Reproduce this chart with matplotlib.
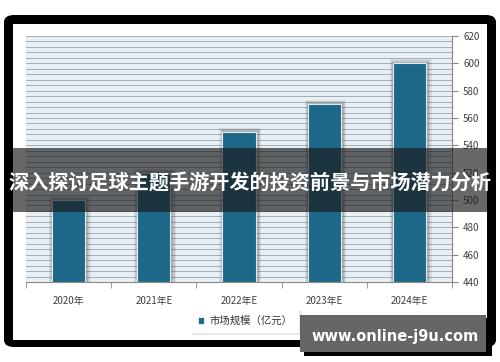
import matplotlib
matplotlib.use('Agg')

import matplotlib.pyplot as plt
import matplotlib.patches as patches
import numpy as np

plt.rcParams['font.family'] = ['Noto Sans CJK SC', 'DejaVu Sans']

# data
years = ['2020年', '2021年E', '2022年E', '2023年E', '2024年E']
market_size = [500, 520, 550, 570, 600]
series_name = '市场规模（亿元）'
y_ticks = [440, 460, 480, 500, 520, 540, 560, 580, 600, 620]
title = '深入探讨足球主题手游开发的投资前景与市场潜力分析'
watermark = 'www.online-j9u.com'

W, H = 500, 362
fig = plt.figure(figsize=(W / 100, H / 100), dpi=100)
fig.patch.set_facecolor('white')


def fx(px):
    return px / W


def fy(py):
    return 1 - py / H


# black rounded frame + white inner card
frame = patches.FancyBboxPatch((fx(4), fy(347)), fx(492), (347 - 15) / H,
                               boxstyle='round,pad=0,rounding_size=0.02',
                               transform=fig.transFigure, facecolor='black',
                               edgecolor='none', zorder=0)
fig.patches.append(frame)
inner = patches.Rectangle((fx(13), fy(340)), fx(474), (340 - 24) / H,
                          transform=fig.transFigure, facecolor='white',
                          edgecolor='none', zorder=0.5)
fig.patches.append(inner)

ax = fig.add_axes([fx(26), fy(282), fx(426), (282 - 36) / H])
ax.set_zorder(2)
ax.set_facecolor('#e8f0f7')
x = np.arange(len(years))

# gridlines every 4 units
for g in np.arange(440, 621, 4):
    ax.axhline(g, color='#a8acb0', lw=0.7, zorder=1)

# soft shadows behind bars
for i, v in enumerate(market_size):
    for k, a in zip([0.05, 0.035, 0.02], [0.12, 0.15, 0.2]):
        ax.bar(x[i] + 0.015, v - 440 + k * 60, width=0.39 + 2 * k,
               bottom=440, color='#555555', alpha=a, zorder=2, lw=0)

ax.bar(x, np.array(market_size) - 440, bottom=440, width=0.39, color='#1d6788',
       edgecolor='#dfe8ee', linewidth=0.8, zorder=3, label=series_name)

ax.set_xlim(-0.5, len(years) - 0.5)
ax.set_ylim(440, 620)
ax.yaxis.tick_right()
ax.set_yticks(y_ticks)
ax.tick_params(axis='y', length=4, color='#888888', labelsize=7, labelcolor='#404040', pad=4)
ax.set_xticks(x)
ax.set_xticklabels(years)
ax.tick_params(axis='x', length=0, labelsize=7, labelcolor='#404040', pad=10)
ax.set_xticks(np.arange(-0.5, len(years), 1), minor=True)
ax.tick_params(axis='x', which='minor', length=4, color='#888888')
for s in ['top', 'left']:
    ax.spines[s].set_visible(False)
for s in ['right', 'bottom']:
    ax.spines[s].set_color('#888888')
    ax.spines[s].set_linewidth(0.8)

# legend box with shadow
sh = patches.Rectangle((fx(192), fy(335)), fx(110), 24 / H, transform=fig.transFigure,
                       facecolor='#e6e6e6', edgecolor='none', zorder=4)
fig.patches.append(sh)
leg = fig.legend(loc='center', bbox_to_anchor=(fx(245), fy(321)), frameon=True,
                 fontsize=7.5, handlelength=0.6, handleheight=0.6, handletextpad=0.5,
                 borderpad=0.6, fancybox=False, edgecolor='white', framealpha=1)
leg.set_zorder(5)
for t in leg.get_texts():
    t.set_color('#333333')

# banner
banner = patches.Rectangle((fx(13), fy(212)), fx(474), (212 - 148) / H,
                           transform=fig.transFigure, facecolor='#1a1a1a',
                           alpha=0.66, edgecolor='none', zorder=10)
fig.patches.append(banner)
fig.text(0.5, fy(182), title, ha='center', va='center', color='white',
         fontsize=14.5, fontweight='bold', zorder=11)

# watermark box
wsh = patches.Rectangle((fx(304), fy(356)), fx(188), 38 / H, transform=fig.transFigure,
                        facecolor='black', edgecolor='none', zorder=10)
fig.patches.append(wsh)
wbox = patches.Rectangle((fx(300), fy(352)), fx(186), 37 / H, transform=fig.transFigure,
                         facecolor='#666666', edgecolor='none', zorder=10)
fig.patches.append(wbox)
fig.text(fx(395), fy(336), watermark, ha='center', va='center', color='white',
         fontsize=10.5, fontweight='bold', family='DejaVu Sans', zorder=11)

fig.savefig('out.png', dpi=100)
